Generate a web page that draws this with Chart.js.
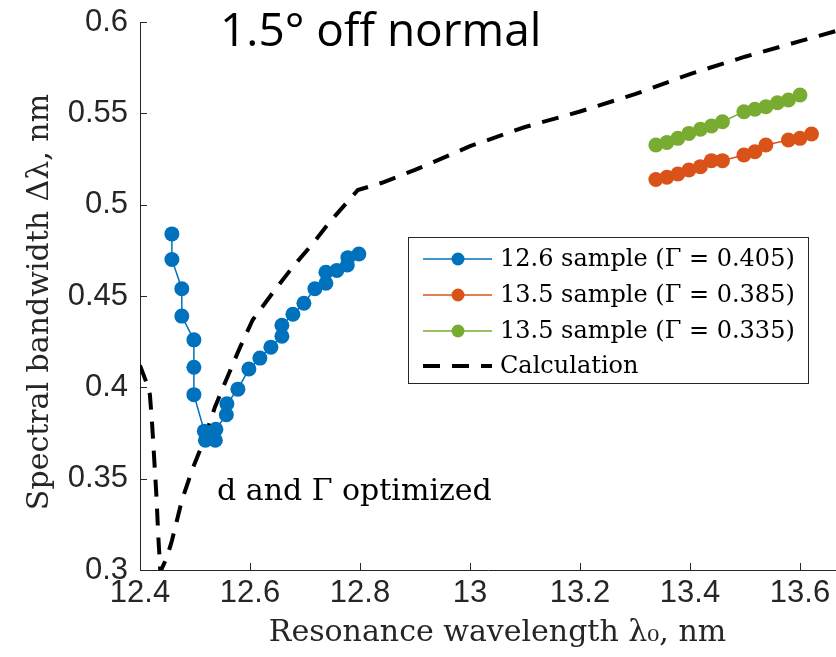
<!DOCTYPE html>
<html><head><meta charset="utf-8">
<script src="https://cdn.jsdelivr.net/npm/chart.js@4.4.1/dist/chart.umd.min.js"></script>
<style>html,body{margin:0;padding:0;background:#fff}canvas{display:block}</style>
</head><body>
<canvas id="c" width="836" height="657"></canvas>
<script>
// ---- data ----
const seriesLabels = ['12.6 sample (Γ = 0.405)', '13.5 sample (Γ = 0.385)', '13.5 sample (Γ = 0.335)', 'Calculation'];
const blueX = [12.458,12.458,12.476,12.476,12.498,12.498,12.498,12.517,12.519,12.537,12.538,12.557,12.558,12.578,12.598,12.618,12.638,12.658,12.658,12.678,12.698,12.718,12.738,12.738,12.758,12.777,12.778,12.798];
const blueY = [0.484,0.470,0.454,0.439,0.426,0.411,0.396,0.376,0.371,0.371,0.377,0.385,0.391,0.399,0.410,0.416,0.422,0.428,0.434,0.440,0.446,0.454,0.457,0.463,0.464,0.467,0.471,0.473];
const orangeX = [13.338,13.358,13.378,13.398,13.419,13.439,13.459,13.498,13.518,13.538,13.579,13.600,13.621];
const orangeY = [0.5138,0.5150,0.5168,0.5190,0.5208,0.5241,0.5241,0.5272,0.5290,0.5327,0.5354,0.5363,0.5387];
const greenX = [13.338,13.358,13.378,13.398,13.419,13.439,13.459,13.498,13.518,13.538,13.559,13.579,13.600];
const greenY = [0.5327,0.5340,0.5363,0.5390,0.5413,0.5431,0.5454,0.5509,0.5522,0.5536,0.5558,0.5573,0.5600];
const calcX = [12.400,12.410,12.418,12.422,12.426,12.430,12.433,12.437,12.449,12.458,12.476,12.495,12.515,12.536,12.558,12.582,12.605,12.642,12.678,12.715,12.745,12.796,12.840,12.900,13.000,13.100,13.200,13.300,13.400,13.500,13.600,13.700];
const calcY = [0.412,0.404,0.396,0.380,0.360,0.340,0.320,0.299,0.307,0.316,0.338,0.355,0.370,0.389,0.405,0.422,0.437,0.452,0.466,0.479,0.4905,0.508,0.512,0.519,0.532,0.5425,0.551,0.5605,0.5715,0.581,0.5895,0.598];
const xTicks = [12.4,12.6,12.8,13,13.2,13.4,13.6];
const xTickLabels = ['12.4','12.6','12.8','13','13.2','13.4','13.6'];
const yTicks = [0.3,0.35,0.4,0.45,0.5,0.55,0.6];
const yTickLabels = ['0.3','0.35','0.4','0.45','0.5','0.55','0.6'];
const xMin = 12.4, xMaxVisible = 13.6655, xMaxFull = 13.7;
const yMin = 0.3, yMax = 0.6;
const titleText = '1.5° off normal';
const noteText = 'd and Γ optimized';
const xTitle = 'Resonance wavelength λ₀, nm';
const yTitle = 'Spectral bandwidth Δλ, nm';
const colors = ['#0072BD', '#D95319', '#77AC30', '#000000'];

const pts = (xs, ys) => xs.map((v, i) => ({x: v, y: ys[i]}));
const AX = '#262626';

const overlay = {
  id: 'overlay',
  afterDraw(chart) {
    const {ctx, chartArea: a, scales: {x, y}} = chart;
    ctx.save();
    // inward ticks
    ctx.strokeStyle = AX; ctx.lineWidth = 1;
    ctx.beginPath();
    xTicks.forEach(v => { const p = Math.round(x.getPixelForValue(v)) + 0.5; ctx.moveTo(p, a.bottom); ctx.lineTo(p, a.bottom - 7); });
    yTicks.forEach(v => { const p = Math.round(y.getPixelForValue(v)) + 0.5; ctx.moveTo(a.left, p); ctx.lineTo(a.left + 7, p); });
    ctx.stroke();
    // title
    ctx.fillStyle = '#000';
    ctx.textAlign = 'left'; ctx.textBaseline = 'alphabetic';
    ctx.font = '46px "Open Sans"';
    ctx.fillText(titleText, 220, 46);
    // annotation
    ctx.font = '30px "DejaVu Serif"';
    ctx.fillText(noteText, 217, 500);
    // axis titles
    ctx.fillStyle = '#262626';
    ctx.textAlign = 'center';
    const cx = (x.getPixelForValue(xMin) + x.getPixelForValue(xMaxFull)) / 2;
    ctx.fillText(xTitle, cx, 641);
    ctx.save();
    ctx.translate(48, (a.top + a.bottom) / 2 + 6);
    ctx.rotate(-Math.PI / 2);
    ctx.fillText(yTitle, 0, 0);
    ctx.restore();
    // legend
    const L = {x: 408.5, y: 237.5, w: 400, h: 146};
    ctx.fillStyle = '#fff';
    ctx.fillRect(L.x, L.y, L.w, L.h);
    ctx.strokeStyle = AX; ctx.lineWidth = 1;
    ctx.strokeRect(L.x, L.y, L.w, L.h);
    const rows = [259, 295, 331, 366];
    ctx.font = '24px "DejaVu Serif"';
    ctx.textAlign = 'left'; ctx.textBaseline = 'middle';
    chart.data.datasets.forEach((ds, i) => {
      const ry = rows[i];
      ctx.strokeStyle = ds.borderColor;
      ctx.lineWidth = ds.borderWidth;
      ctx.setLineDash(ds.borderDash || []);
      ctx.beginPath(); ctx.moveTo(423, ry); ctx.lineTo(492, ry); ctx.stroke();
      ctx.setLineDash([]);
      if (ds.pointRadius > 0) {
        ctx.fillStyle = ds.pointBackgroundColor;
        ctx.beginPath(); ctx.arc(458, ry, 6.5, 0, Math.PI * 2); ctx.fill();
      }
      ctx.fillStyle = '#000';
      ctx.fillText(ds.label, 500, ry + 1);
    });
    ctx.restore();
  }
};

const mk = (label, data, color) => ({
  label, data, showLine: true, borderColor: color, backgroundColor: color,
  pointBackgroundColor: color, pointBorderColor: color, pointRadius: 7.5, pointBorderWidth: 0,
  borderWidth: 1.5, tension: 0
});

new Chart(document.getElementById('c'), {
  type: 'scatter',
  data: {
    datasets: [
      mk(seriesLabels[0], pts(blueX, blueY), colors[0]),
      mk(seriesLabels[1], pts(orangeX, orangeY), colors[1]),
      mk(seriesLabels[2], pts(greenX, greenY), colors[2]),
      { label: seriesLabels[3], data: pts(calcX, calcY), showLine: true, borderColor: colors[3],
        pointBackgroundColor: colors[3], borderWidth: 4, borderDash: [17, 12], pointRadius: 0, tension: 0 }
    ]
  },
  options: {
    responsive: false, animation: false, devicePixelRatio: 1,
    layout: { autoPadding: false, padding: { top: 22, right: 0, left: 0, bottom: 0 } },
    plugins: { legend: { display: false }, tooltip: { enabled: false } },
    scales: {
      x: {
        type: 'linear', min: xMin, max: xMaxVisible,
        afterBuildTicks: s => { s.ticks = xTicks.map(v => ({value: v})); },
        afterFit: s => { s.height = 87; s.paddingRight = 0; s.paddingLeft = 0; },
        grid: { display: false, drawTicks: false },
        border: { display: true, color: AX, width: 1 },
        ticks: { padding: 5, color: AX, font: { family: '"Liberation Sans"', size: 31 },
                 callback: v => xTickLabels[xTicks.findIndex(t => Math.abs(t - v) < 1e-9)] }
      },
      y: {
        type: 'linear', min: yMin, max: yMax,
        afterBuildTicks: s => { s.ticks = yTicks.map(v => ({value: v})); },
        afterFit: s => { s.width = 140; s.paddingTop = 0; s.paddingBottom = 0; },
        grid: { display: false, drawTicks: false },
        border: { display: true, color: AX, width: 1 },
        ticks: { padding: 12, color: AX, font: { family: '"Liberation Sans"', size: 31 },
                 callback: v => yTickLabels[yTicks.findIndex(t => Math.abs(t - v) < 1e-9)] }
      }
    }
  },
  plugins: [overlay]
});
</script>
</body></html>
